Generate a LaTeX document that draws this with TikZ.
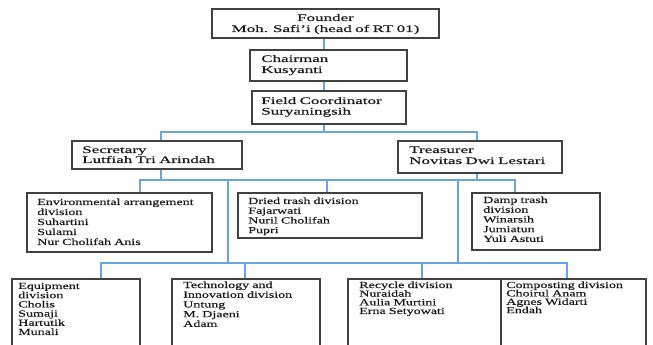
\documentclass[tikz,border=0pt]{standalone}
\usepackage{fontspec}
\setmainfont{Liberation Serif}
\newfontfamily\upfont{Liberation Serif}[FakeStretch=1.7,FakeBold=0.4]
\newfontfamily\lowfont{Liberation Serif}[FakeStretch=1.5,FakeBold=0.4]
\usetikzlibrary{fit}
\definecolor{linkblue}{RGB}{105,165,222}
\definecolor{boxgray}{RGB}{65,65,65}
\definecolor{txtgray}{RGB}{25,25,25}
\tikzset{
  box/.style={draw=boxgray, line width=0.85pt, inner sep=0pt},
  conn/.style={draw=linkblue, line width=0.8pt},
  uptxt/.style={anchor=base west, inner sep=0pt, text width=200pt, align=left, text=txtgray,
    font={\upfont\fontsize{7.5}{#1}\selectfont\lineskiplimit-5pt}},
  uptxt/.default=8.25,
  lowtxt/.style={anchor=base west, inner sep=0pt, text width=170pt, align=left, text=txtgray,
    font={\lowfont\fontsize{7}{#1}\selectfont\lineskiplimit-5pt}},
  lowtxt/.default=7.3,
}
\begin{document}
\begin{tikzpicture}[x=0.75pt,y=-0.75pt]
\useasboundingbox (0,0) rectangle (653,345);
\clip (0,0) rectangle (653,345);
% top hierarchy
\node[box, fit={(212,9) (439,38)}] (founder) {};
\node[uptxt, anchor=base, align=center] (founderT) at (325.5,21) {Founder\\Moh. Safi’i (head of RT 01)};
\node[box, fit={(250,50) (407,81)}] (chair) {};
\node[uptxt] (chairT) at (261,62) {Chairman\\Kusyanti};
\node[box, fit={(252,91) (406,124)}] (field) {};
\node[uptxt=7.9] (fieldT) at (261,104) {Field Coordinator\\Suryaningsih};
\node[box, fit={(72,141) (242,169)}] (sec) {};
\node[uptxt=7.5] (secT) at (82,153) {Secretary\\Lutfiah Tri Arindah};
\node[box, fit={(398,141) (562,173)}] (tre) {};
\node[uptxt] (treT) at (409,153) {Treasurer\\Novitas Dwi Lestari};
% middle divisions
\node[box, fit={(27,193) (212,252)}] (env) {};
\node[lowtxt=7.5] (envT) at (37,205) {Environmental arrangement\\division\\Suhartini\\Sulami\\Nur Cholifah Anis};
\node[box, fit={(238,193) (422,238)}] (dried) {};
\node[lowtxt] (driedT) at (248,204) {Dried trash division\\Fajarwati\\Nuril Cholifah\\Pupri};
\node[box, fit={(472,193) (600,250)}] (damp) {};
\node[lowtxt] (dampT) at (483,203) {Damp trash\\division\\Winarsih\\Jumiatun\\Yuli Astuti};
% bottom divisions
\node[box, fit={(12,279) (140,360)}] (equip) {};
\node[lowtxt=6.9] (equipT) at (18,289) {Equipment\\division\\Cholis\\Sumaji\\Hartutik\\Munali};
\node[box, fit={(172,279) (320,360)}] (tech) {};
\node[lowtxt] (techT) at (183,288) {Technology and\\Innovation division\\Untung\\M. Djaeni\\Adam};
\node[box, fit={(348,279) (501,360)}] (rec) {};
\node[lowtxt=6.5] (recT) at (359,288) {Recycle division\\Nuraidah\\Aulia Murtini\\Erna Setyowati};
\node[box, fit={(501,279) (646,360)}] (comp) {};
\node[lowtxt=6.3] (compT) at (506,288) {Composting division\\Choirul Anam\\Agnes Widarti\\Endah};
% junction coordinates
\coordinate (jA) at (324,132);
\coordinate (jB) at (300,180);
\coordinate (jC) at (300,263);
\coordinate (xSec) at (161,0);
\coordinate (xTre) at (477,0);
\coordinate (xEnv) at (140,0);
\coordinate (xDried) at (327,0);
\coordinate (xDamp) at (515,0);
\coordinate (xL) at (228,0);
\coordinate (xR) at (458,0);
\coordinate (xEq) at (101,0);
\coordinate (xTe) at (245,0);
\coordinate (xRe) at (422,0);
\coordinate (xCo) at (567,0);
% connectors
\draw[conn] (founder.south -| jA) -- (chair.north -| jA);
\draw[conn] (chair.south -| jA) -- (field.north -| jA);
\draw[conn] (field.south -| jA) -- (jA);
\draw[conn] (sec.north -| xSec) |- (jA) -| (tre.north -| xTre);
\draw[conn] (sec.south -| xSec) -- (xSec |- jB);
\draw[conn] (tre.south -| xTre) -- (xTre |- jB);
\draw[conn] (env.north -| xEnv) |- (jB) -| (damp.north -| xDamp);
\draw[conn] (dried.north -| xDried) -- (xDried |- jB);
\draw[conn] (xL |- jB) -- (xL |- jC);
\draw[conn] (xR |- jB) -- (xR |- jC);
\draw[conn] (equip.north -| xEq) |- (jC) -| (comp.north -| xCo);
\draw[conn] (tech.north -| xTe) -- (xTe |- jC);
\draw[conn] (rec.north -| xRe) -- (xRe |- jC);
\end{tikzpicture}
\end{document}
